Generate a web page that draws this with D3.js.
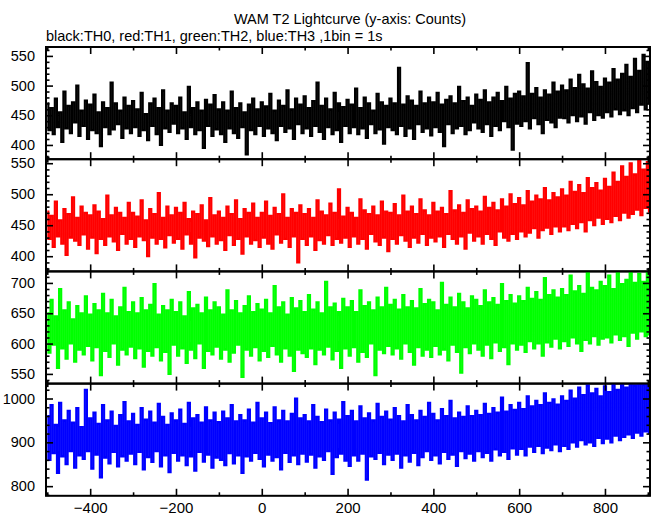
<!DOCTYPE html>
<html><head><meta charset="utf-8">
<script src="https://cdn.jsdelivr.net/npm/d3@7"></script>
<style>
html,body{margin:0;padding:0;background:#fff;}
svg{display:block;font-family:"Liberation Sans",Arial,Helvetica,sans-serif;}
</style></head>
<body><div id="chart"></div>
<script>
// ---- data (samples every 5 s) ----
const title = "WAM T2 Lightcurve (y-axis: Counts)";
const subtitle = "black:TH0, red:TH1, green:TH2, blue:TH3 ,1bin = 1s";
const tStart = -500, tStep = 5;
const xMajorTicks = [-400, -200, 0, 200, 400, 600, 800];
const xMinorTicks = [-500, -300, -100, 100, 300, 500, 700, 900];
const seriesNames = ["TH0", "TH1", "TH2", "TH3"];
const seriesColors = ["#000000", "#ff0000", "#00ff00", "#0000ff"];

const th0 = [
470,425,462,418,478,430,455,405,490,428,466,420,472,438,500,415,458,432,475,410,
468,425,485,420,455,398,472,430,462,418,505,426,470,435,458,412,480,428,466,420,
474,430,460,415,488,425,452,408,470,432,478,418,462,400,492,428,458,422,470,436,
466,420,480,428,455,410,498,430,462,418,472,425,458,395,476,432,468,415,484,426,
460,418,472,405,458,428,490,420,462,412,470,430,455,384,468,425,478,418,460,432,
472,415,465,428,486,420,458,408,475,432,466,422,492,428,460,410,478,435,468,420,
482,428,462,415,474,432,505,422,466,410,478,430,460,418,488,425,470,405,464,432,
476,420,468,430,495,418,462,428,480,412,470,435,458,420,486,426,472,402,466,430,
478,425,470,418,530,432,468,415,482,428,475,410,466,435,490,422,470,428,480,416,
472,430,488,422,468,398,476,435,482,420,470,428,498,432,474,418,480,425,466,438,
485,428,476,422,492,435,472,415,480,432,488,425,474,440,498,430,478,392,486,436,
490,432,482,440,538,428,486,445,496,435,480,420,492,442,485,438,505,430,490,446,
500,445,492,438,510,450,496,440,518,448,502,436,495,455,524,442,506,450,498,446,
512,455,505,448,528,460,510,452,520,458,535,450,515,462,545,455,525,468,552,460,
540,470];
const th1 = [
472,428,465,415,488,432,458,420,476,402,468,430,495,425,462,418,480,435,470,412,
466,430,482,405,472,428,460,418,498,432,466,424,478,410,470,436,462,420,486,428,
470,415,464,432,490,426,458,400,476,430,468,420,502,428,462,414,480,434,466,422,
478,428,470,412,486,435,460,420,472,398,468,430,482,425,458,416,494,432,466,420,
472,426,462,410,480,434,468,418,490,428,460,404,476,432,470,420,485,426,462,415,
470,430,488,420,465,412,478,435,468,422,500,428,462,415,476,432,470,390,482,428,
468,418,476,432,462,410,490,426,472,420,466,434,485,418,470,428,508,422,464,430,
478,415,470,432,462,420,492,428,474,412,468,436,480,424,466,418,488,430,472,408,
470,428,484,420,466,434,498,425,472,415,480,430,468,422,492,436,474,418,466,430,
486,424,472,432,478,415,468,436,505,428,474,420,482,432,470,412,490,438,476,425,
480,432,472,420,496,436,478,428,486,418,474,440,492,430,480,425,500,436,484,428,
494,440,482,432,505,438,488,445,498,430,492,442,510,446,490,436,502,448,495,440,
508,448,498,442,520,452,504,445,515,455,502,440,526,458,510,450,518,462,506,452,
525,460,512,455,535,465,520,458,545,470,528,462,550,468,532,475,555,466,540,478,
552,472];
const th2 = [
650,585,672,598,645,560,690,592,655,575,668,600,640,570,662,590,650,582,678,596,
648,572,665,594,655,548,682,588,650,578,672,600,645,565,660,590,692,582,652,595,
668,576,650,592,675,562,655,588,664,580,698,594,648,572,662,586,655,550,672,598,
652,580,668,592,645,568,685,590,658,576,664,600,650,560,676,588,655,582,668,595,
660,575,648,590,688,570,655,585,670,598,650,545,662,590,678,580,652,594,665,572,
656,588,672,578,650,596,695,582,660,570,668,592,648,580,675,555,658,590,670,584,
652,578,680,592,656,566,668,590,650,582,702,595,660,574,666,588,652,560,674,592,
660,580,670,594,652,570,688,586,662,578,668,600,655,548,676,590,660,584,692,596,
664,582,672,592,656,575,680,600,660,586,670,565,658,594,690,580,665,590,672,578,
668,596,655,582,700,590,664,572,676,598,660,586,682,552,668,594,658,584,678,600,
672,590,662,580,688,598,668,576,675,602,664,588,698,594,670,566,680,600,666,590,
678,598,670,586,692,604,674,592,685,600,672,580,708,602,680,595,688,608,676,592,
690,604,680,596,712,610,686,600,695,588,682,606,718,600,692,612,688,598,702,608,
695,610,712,602,690,615,720,606,698,612,705,596,722,618,700,608,715,620,702,612,
718,615];
const th3 = [
960,860,985,875,940,830,990,868,950,850,972,880,945,842,978,870,935,862,1020,880,
955,840,968,872,942,820,985,865,950,852,970,878,938,845,962,868,992,858,948,874,
965,850,940,878,978,838,952,866,970,855,945,880,988,845,958,870,940,832,966,876,
950,858,975,870,942,848,990,868,955,835,962,878,945,856,980,872,950,842,968,865,
946,860,970,848,955,875,985,852,948,870,962,830,950,868,975,858,945,876,990,862,
955,845,968,872,944,858,980,866,950,838,972,876,948,855,965,870,1000,850,955,874,
962,856,948,872,985,842,958,868,946,860,975,880,950,828,968,866,952,874,992,858,
960,846,972,870,948,858,982,874,955,815,966,868,950,862,988,876,958,850,970,872,
952,860,978,874,960,842,948,870,985,856,962,876,950,848,972,866,958,880,990,860,
965,870,950,852,976,878,960,862,995,872,955,846,968,880,958,864,982,874,960,858,
972,880,962,866,988,876,965,858,978,884,968,870,1002,878,970,862,985,886,974,872,
990,885,976,870,1005,890,982,878,995,892,985,875,1012,888,990,882,998,895,986,880,
1005,892,995,885,1018,900,1000,890,1025,905,1008,895,1030,900,1012,892,1022,910,1005,898,
1028,908,1015,900,1034,915,1020,905,1036,912,1025,918,1040,910,1030,922,1045,915,1032,925,
1040,920];

// y-axis domains, major tick labels and minor ticks per panel
const yDomains = [[376, 565], [375.5, 556.5], [534, 719], [778, 1034]];
const yMajorTicks = [[400, 450, 500, 550], [400, 450, 500, 550], [550, 600, 650, 700], [800, 900, 1000]];
const yMinorTicks = [
  [380,390,410,420,430,440,460,470,480,490,510,520,530,540,560],
  [380,390,410,420,430,440,460,470,480,490,510,520,530,540],
  [540,560,570,580,590,610,620,630,640,660,670,680,690,710],
  [780,820,840,860,880,920,940,960,980,1020]
];
const seriesValues = [th0, th1, th2, th3];

// ---- layout ----
const W = 652, H = 515;
const pLeft = 46, pRight = 650, pTop = 47, panelH = 112.2;

const svg = d3.select("#chart").append("svg").attr("width", W).attr("height", H);

const x = d3.scaleLinear().domain([-503, 905]).range([pLeft, pRight]);

svg.append("text").attr("x", 350).attr("y", 24).attr("text-anchor", "middle")
  .attr("font-size", "14.5px").text(title);
svg.append("text").attr("x", 46).attr("y", 41).attr("text-anchor", "start")
  .attr("font-size", "14.5px").text(subtitle);

const axStyle = sel => {
  sel.select(".domain").remove();
  sel.selectAll("line").attr("stroke", "#000").attr("stroke-width", 1.6);
};

seriesValues.forEach((vals, i) => {
  const y0 = pTop + i * panelH, y1 = y0 + panelH;
  const y = d3.scaleLinear().domain(yDomains[i]).range([y1, y0]);
  const g = svg.append("g");

  const clipId = "clip" + i;
  svg.append("clipPath").attr("id", clipId).append("rect")
    .attr("x", pLeft).attr("y", y0).attr("width", pRight - pLeft).attr("height", panelH);

  const line = d3.line()
    .curve(d3.curveStep)
    .x((d, k) => x(tStart + k * tStep))
    .y(d => y(d));
  g.append("path").datum(vals)
    .attr("clip-path", "url(#" + clipId + ")")
    .attr("fill", "none").attr("stroke", seriesColors[i]).attr("stroke-width", 2.1)
    .attr("stroke-linejoin", "miter")
    .attr("d", line);

  g.append("g").attr("transform", `translate(${pLeft},0)`)
    .call(d3.axisLeft(y).tickValues(yMajorTicks[i]).tickSize(-7).tickFormat(d3.format("d")))
    .call(axStyle)
    .call(s => s.selectAll("text").attr("font-size", "14.5px").attr("fill", "#000")
      .attr("font-family", "Liberation Sans, Arial, sans-serif").attr("x", -11));
  g.append("g").attr("transform", `translate(${pLeft},0)`)
    .call(d3.axisLeft(y).tickValues(yMinorTicks[i]).tickSize(-3.5).tickFormat(""))
    .call(axStyle);
  g.append("g").attr("transform", `translate(${pRight},0)`)
    .call(d3.axisRight(y).tickValues(yMajorTicks[i]).tickSize(-7).tickFormat(""))
    .call(axStyle);
  g.append("g").attr("transform", `translate(${pRight},0)`)
    .call(d3.axisRight(y).tickValues(yMinorTicks[i]).tickSize(-3.5).tickFormat(""))
    .call(axStyle);

  g.append("g").attr("transform", `translate(0,${y0})`)
    .call(d3.axisTop(x).tickValues(xMajorTicks).tickSize(-7).tickFormat("")).call(axStyle);
  g.append("g").attr("transform", `translate(0,${y0})`)
    .call(d3.axisTop(x).tickValues(xMinorTicks).tickSize(-3.5).tickFormat("")).call(axStyle);
  g.append("g").attr("transform", `translate(0,${y1})`)
    .call(d3.axisBottom(x).tickValues(xMajorTicks).tickSize(-7).tickFormat("")).call(axStyle);
  g.append("g").attr("transform", `translate(0,${y1})`)
    .call(d3.axisBottom(x).tickValues(xMinorTicks).tickSize(-3.5).tickFormat("")).call(axStyle);

  g.append("rect").attr("x", pLeft).attr("y", y0).attr("width", pRight - pLeft).attr("height", panelH)
    .attr("fill", "none").attr("stroke", "#000").attr("stroke-width", 2);
});

const yBottom = pTop + 4 * panelH;
svg.append("g").attr("transform", `translate(0,${yBottom})`)
  .call(d3.axisBottom(x).tickValues(xMajorTicks).tickSize(0).tickPadding(7)
    .tickFormat(d => d < 0 ? "\u2212" + Math.abs(d) : String(d)))
  .call(s => s.select(".domain").remove())
  .call(s => s.selectAll("text").attr("font-size", "15px").attr("fill", "#000")
    .attr("font-family", "Liberation Sans, Arial, sans-serif"));
</script></body></html>
